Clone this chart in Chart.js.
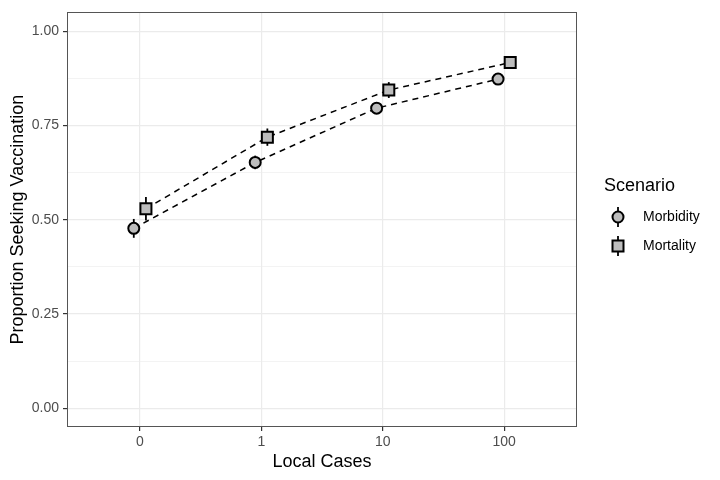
<!DOCTYPE html>
<html lang="en">
  <head>
    <meta charset="UTF-8" />
    <title>Proportion Seeking Vaccination</title>
    <style>
      html, body { margin: 0; padding: 0; background: #fff; }
      #wrap { width: 720px; height: 480px; }
    </style>
  </head>
  <body>
    <div id="wrap"><canvas id="myChart" width="720" height="480"></canvas></div>
    <script src="https://cdn.jsdelivr.net/npm/chart.js"></script>
    <script>
      // data
      var categories = ["0", "1", "10", "100"];
      var morbidity = [0.477, 0.652, 0.796, 0.873];
      var mortality = [0.529, 0.719, 0.844, 0.917];
      var morbidityErr = [0.025, 0.018, 0.015, 0.01];
      var mortalityErr = [0.031, 0.023, 0.021, 0.013];
      var yTicks = [0, 0.125, 0.25, 0.375, 0.5, 0.625, 0.75, 0.875, 1];
      var dodge = 0.05;

      var FONT = "'Liberation Sans', Arial, Helvetica, sans-serif";

      function pts(vals, off) {
        return vals.map(function (v, i) { return { x: i + off, y: v }; });
      }
      function isMajor(v) {
        return Math.abs(v * 4 - Math.round(v * 4)) < 1e-6;
      }

      var errorBars = {
        id: "errorBars",
        beforeDatasetsDraw: function (chart) {
          var ctx = chart.ctx, xs = chart.scales.x, ys = chart.scales.y;
          var sets = [[morbidity, morbidityErr, -dodge], [mortality, mortalityErr, dodge]];
          ctx.save();
          ctx.strokeStyle = "#000";
          ctx.lineWidth = 1.8;
          sets.forEach(function (s) {
            s[0].forEach(function (v, i) {
              var px = xs.getPixelForValue(i + s[2]);
              ctx.beginPath();
              ctx.moveTo(px, ys.getPixelForValue(v - s[1][i]));
              ctx.lineTo(px, ys.getPixelForValue(v + s[1][i]));
              ctx.stroke();
            });
          });
          ctx.restore();
        },
        afterDraw: function (chart) {
          var ctx = chart.ctx, a = chart.chartArea;
          ctx.save();
          // panel border
          ctx.strokeStyle = "#555";
          ctx.lineWidth = 1;
          ctx.strokeRect(Math.round(a.left) + 0.5, Math.round(a.top) + 0.5,
            Math.round(a.right - a.left) - 1, Math.round(a.bottom - a.top) - 1);

          // legend
          ctx.fillStyle = "#000";
          ctx.textBaseline = "middle";
          ctx.font = "18px " + FONT;
          ctx.fillText("Scenario", 604, 186);
          ctx.font = "14px " + FONT;
          var rows = [["Morbidity", "circle", 217], ["Mortality", "rect", 246]];
          rows.forEach(function (r) {
            var gx = 618, gy = r[2];
            ctx.strokeStyle = "#000";
            ctx.lineWidth = 1.8;
            ctx.beginPath();
            ctx.moveTo(gx, gy - 10);
            ctx.lineTo(gx, gy + 10);
            ctx.stroke();
            ctx.fillStyle = "#bdbdbd";
            ctx.lineWidth = 2;
            ctx.beginPath();
            if (r[1] === "circle") ctx.arc(gx, gy, 5.5, 0, Math.PI * 2);
            else ctx.rect(gx - 5.5, gy - 5.5, 11, 11);
            ctx.fill();
            ctx.stroke();
            ctx.fillStyle = "#000";
            ctx.fillText(r[0], 643, gy);
          });
          ctx.restore();
        }
      };

      var seriesStyle = {
        showLine: true,
        borderColor: "#000",
        borderWidth: 1.5,
        borderDash: [6, 5],
        pointBackgroundColor: "#bdbdbd",
        pointBorderColor: "#000",
        pointBorderWidth: 2
      };

      var config = {
        type: "scatter",
        data: {
          datasets: [
            Object.assign({ label: "Morbidity", data: pts(morbidity, -dodge), pointStyle: "circle", pointRadius: 5.5 }, seriesStyle),
            Object.assign({ label: "Mortality", data: pts(mortality, dodge), pointStyle: "rect", pointRadius: 7.8 }, seriesStyle)
          ]
        },
        options: {
          responsive: false,
          animation: false,
          events: [],
          layout: { padding: { left: 0, top: 9, right: 143, bottom: 0 } },
          plugins: { legend: { display: false }, tooltip: { enabled: false } },
          scales: {
            x: {
              type: "linear",
              min: -0.6,
              max: 3.6,
              afterBuildTicks: function (scale) {
                scale.ticks = categories.map(function (c, i) { return { value: i }; });
              },
              afterFit: function (scale) { scale.height = 53; },
              border: { display: false },
              grid: { color: "#ebebeb", lineWidth: 1.2, tickColor: "#333", tickLength: 4 },
              ticks: {
                color: "#4d4d4d",
                font: { family: FONT, size: 14 },
                padding: 3,
                maxRotation: 0,
                callback: function (v) { return categories[Math.round(v)]; }
              },
              title: {
                display: true,
                text: "Local Cases",
                color: "#000",
                font: { family: FONT, size: 18, lineHeight: 1.2 },
                padding: { top: 0, bottom: 7 }
              }
            },
            y: {
              min: -0.05,
              max: 1.05,
              afterBuildTicks: function (scale) {
                scale.ticks = yTicks.map(function (v) { return { value: v }; });
              },
              afterFit: function (scale) { scale.width = 67; },
              border: { display: false },
              grid: {
                color: "#ebebeb",
                lineWidth: function (c) { return isMajor(c.tick.value) ? 1.2 : 0.6; },
                tickColor: function (c) { return isMajor(c.tick.value) ? "#333" : "rgba(0,0,0,0)"; },
                tickLength: 4
              },
              ticks: {
                color: "#4d4d4d",
                font: { family: FONT, size: 14 },
                padding: 4,
                callback: function (v) { return isMajor(v) ? v.toFixed(2) : ""; }
              },
              title: {
                display: true,
                text: "Proportion Seeking Vaccination",
                color: "#000",
                font: { family: FONT, size: 18, lineHeight: 1.2 },
                padding: { top: 7, bottom: 0 }
              }
            }
          }
        },
        plugins: [errorBars]
      };

      var myChart = new Chart(document.getElementById("myChart"), config);
    </script>
  </body>
</html>
